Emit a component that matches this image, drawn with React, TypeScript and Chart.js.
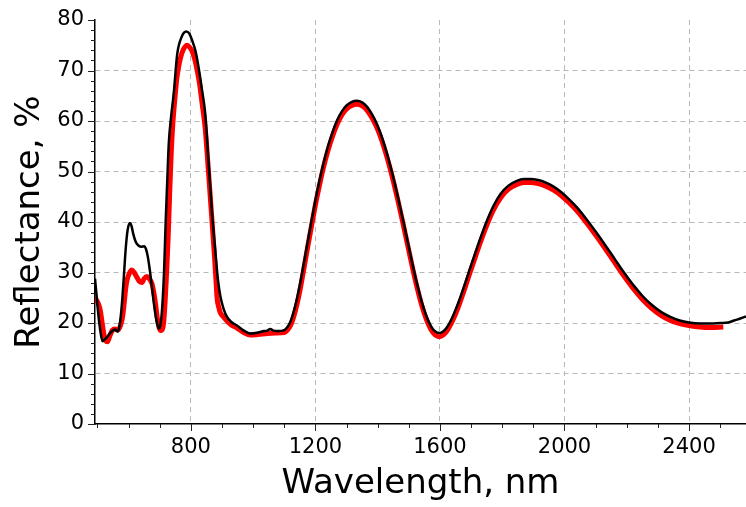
import React, { useEffect, useRef } from "react";
import { Chart, registerables } from "chart.js";

Chart.register(...registerables);

// Black (model) curve: wavelength (nm) and reflectance (%)
const blackNm = [
  492, 497, 503, 509, 516, 524, 532, 540, 548, 556, 565, 570, 575, 580, 585, 591, 597, 604, 609, 615,
  622, 630, 640, 650, 656, 662, 668, 675, 682, 690, 697, 702, 708, 714, 719, 724, 729, 736, 745, 756,
  770, 785, 795, 805, 815, 825, 836, 846, 857, 868, 879, 887, 895, 905, 916, 930, 948, 970, 991, 1015,
  1035, 1045, 1055, 1065, 1080, 1100, 1110, 1120, 1130, 1141, 1152, 1163, 1175, 1188, 1200, 1212, 1225, 1240, 1255, 1270,
  1285, 1300, 1317, 1333, 1350, 1366, 1382, 1398, 1414, 1430, 1447, 1464, 1481, 1497, 1512, 1527, 1542, 1557, 1571, 1585,
  1599, 1610, 1622, 1635, 1650, 1665, 1680, 1695, 1712, 1730, 1750, 1772, 1795, 1820, 1845, 1870, 1890, 1915, 1940, 1965,
  1990, 2015, 2040, 2070, 2100, 2130, 2160, 2190, 2220, 2250, 2280, 2310, 2340, 2370, 2400, 2435, 2470, 2500, 2526, 2545,
  2565, 2583,
];
const blackR = [
  28.8, 25.5, 21.5, 18.5, 16.4, 16.8, 17.3, 18.0, 18.4, 18.7, 18.3, 19.2, 21.5, 25, 29.5, 35, 38.5, 39.8, 39.3, 37.6,
  36.2, 35.4, 35.1, 35.2, 34.6, 33, 30.5, 27, 23.5, 20.3, 18.9, 19.6, 23.2, 30.5, 40, 48, 55.6, 60.6, 65.5, 73.2,
  76.6, 77.7, 77.3, 75.8, 73.8, 70.5, 66, 61.5, 51.6, 41.7, 33.8, 28.5, 25.2, 22.8, 21.2, 20.2, 19.5, 18.5, 17.9, 18.1,
  18.4, 18.5, 18.8, 18.5, 18.4, 18.6, 19.2, 20.3, 22.2, 24.9, 28.2, 31.9, 36.0, 40.4, 44.3, 47.9, 51.4, 54.9, 57.8, 60.2,
  61.9, 63.1, 63.8, 64.0, 63.7, 62.8, 61.3, 59.3, 56.7, 53.5, 49.6, 45.2, 40.5, 35.9, 31.6, 27.6, 24.1, 21.3, 19.4, 18.3,
  18.0, 18.3, 19.1, 20.5, 22.6, 25.0, 27.7, 30.5, 33.6, 36.8, 40.1, 43.2, 45.6, 47.2, 48.1, 48.5, 48.5, 48.3, 47.8, 47.0,
  45.9, 44.5, 42.9, 40.6, 38.1, 35.5, 32.8, 30.1, 27.6, 25.4, 23.6, 22.2, 21.2, 20.5, 20.1, 19.9, 19.9, 20.0, 20.1, 20.5,
  20.9, 21.3,
];

// Red (measured) curve
const redNm = [
  492, 497, 503, 509, 515, 520, 526, 532, 540, 548, 556, 565, 574, 580, 585, 590, 595, 602, 610, 618,
  627, 635, 643, 650, 659, 667, 675, 681, 686, 692, 697, 703, 708, 712, 717, 722, 727, 732, 737, 742,
  748, 755, 762, 772, 788, 796, 804, 812, 820, 828, 836, 846, 857, 868, 876, 882, 884, 890, 895, 905,
  916, 930, 948, 970, 991, 1015, 1045, 1070, 1100, 1110, 1120, 1130, 1141, 1152, 1163, 1175, 1188, 1200, 1212, 1225,
  1240, 1255, 1270, 1285, 1300, 1317, 1333, 1350, 1366, 1382, 1398, 1414, 1430, 1447, 1464, 1481, 1497, 1512, 1527, 1542,
  1557, 1571, 1585, 1599, 1610, 1622, 1635, 1650, 1665, 1680, 1695, 1712, 1730, 1750, 1772, 1795, 1820, 1845, 1870, 1890,
  1915, 1940, 1965, 1990, 2015, 2040, 2070, 2100, 2130, 2160, 2190, 2220, 2250, 2280, 2310, 2340, 2370, 2400, 2435, 2470,
  2510,
];
const redR = [
  25, 24.5, 23.8, 22.5, 20, 18, 16.5, 16.3, 17.5, 18.6, 18.8, 18.6, 19.5, 21, 23.5, 26.5, 28.5, 29.8, 30.5, 30,
  29, 28.2, 28, 28.8, 29.2, 28.7, 27.8, 26, 24, 21, 19.3, 18.5, 18.7, 19.8, 24, 30, 37, 46, 54, 59.5,
  64, 68.5, 71.2, 73.6, 75.0, 74.6, 73.8, 72.3, 70.1, 67.3, 63.5, 58.5, 49.5, 40, 33, 27, 25, 23, 22, 21.2,
  20.4, 19.6, 19, 18.1, 17.6, 17.7, 17.9, 18, 18.1, 18.6, 19.5, 21.2, 23.8, 27.0, 30.8, 35.0, 39.4, 43.4, 47.0, 50.6,
  54.1, 57.0, 59.4, 61.2, 62.4, 63.1, 63.3, 63.0, 62.1, 60.6, 58.6, 56.0, 52.8, 48.9, 44.5, 39.8, 35.2, 30.9, 26.9, 23.4,
  20.6, 18.7, 17.6, 17.3, 17.6, 18.4, 19.8, 21.8, 24.2, 26.9, 29.7, 32.8, 36.0, 39.3, 42.4, 44.8, 46.5, 47.4, 47.8, 47.8,
  47.6, 47.1, 46.3, 45.2, 43.8, 42.2, 39.9, 37.4, 34.8, 32.1, 29.4, 26.9, 24.7, 22.9, 21.5, 20.5, 19.9, 19.5, 19.2, 19.1,
  19.2,
];

// Axis ticks
const xTicks = [500, 600, 700, 800, 900, 1000, 1100, 1200, 1300, 1400, 1500, 1600, 1700, 1800, 1900, 2000, 2100, 2200, 2300, 2400, 2500];
const xMajor = [800, 1200, 1600, 2000, 2400];
const yTicks = [0, 2, 4, 6, 8, 10, 12, 14, 16, 18, 20, 22, 24, 26, 28, 30, 32, 34, 36, 38, 40, 42, 44, 46, 48, 50, 52, 54, 56, 58, 60, 62, 64, 66, 68, 70, 72, 74, 76, 78, 80];
const yMajor = [0, 10, 20, 30, 40, 50, 60, 70, 80];

const X_MIN = 492;
const X_MAX = 2583;
const Y_MIN = 0;
const Y_MAX = 80;

const FONT = "'DejaVu Sans', sans-serif";

const tickMarks = {
  id: "tickMarks",
  afterDraw(chart: any) {
    const ctx = chart.ctx;
    const xs = chart.scales.x;
    const ys = chart.scales.y;
    const area = chart.chartArea;
    ctx.save();
    ctx.strokeStyle = "#222";
    ctx.lineWidth = 1;
    xs.ticks.forEach((t: any) => {
      const px = Math.round(xs.getPixelForValue(t.value)) + 0.5;
      const len = xMajor.includes(t.value) ? 7 : 4;
      ctx.beginPath();
      ctx.moveTo(px, area.bottom);
      ctx.lineTo(px, area.bottom + len);
      ctx.stroke();
    });
    ys.ticks.forEach((t: any) => {
      const py = Math.round(ys.getPixelForValue(t.value)) + 0.5;
      const len = yMajor.includes(t.value) ? 7 : 4;
      ctx.beginPath();
      ctx.moveTo(area.left, py);
      ctx.lineTo(area.left - len, py);
      ctx.stroke();
    });
    ctx.restore();
  },
};

export default function App() {
  const ref = useRef<HTMLCanvasElement | null>(null);

  useEffect(() => {
    if (!ref.current) return;
    const black = blackNm.map((x, i) => ({ x, y: blackR[i] }));
    const red = redNm.map((x, i) => ({ x, y: redR[i] }));
    const chart = new Chart(ref.current, {
      type: "line",
      data: {
        datasets: [
          {
            label: "Calculated",
            data: black,
            borderColor: "#000000",
            borderWidth: 2.5,
            pointRadius: 0,
            cubicInterpolationMode: "monotone",
            fill: false,
          },
          {
            label: "Measured",
            data: red,
            borderColor: "#ff0000",
            borderWidth: 5,
            pointRadius: 0,
            cubicInterpolationMode: "monotone",
            fill: false,
          },
        ],
      },
      options: {
        animation: false,
        responsive: false,
        devicePixelRatio: 1,
        layout: { padding: { left: 0, right: 0, top: 20, bottom: 0 } },
        plugins: {
          legend: { display: false },
          tooltip: { enabled: false },
        },
        scales: {
          x: {
            type: "linear",
            min: X_MIN,
            max: X_MAX,
            afterBuildTicks: (scale: any) => {
              scale.ticks = xTicks.map((v) => ({ value: v }));
            },
            afterFit: (scale: any) => {
              scale.height = 83;
            },
            ticks: {
              autoSkip: false,
              maxRotation: 0,
              padding: 4,
              color: "#000",
              font: { family: FONT, size: 21 },
              callback: (v: any) => (xMajor.includes(Number(v)) ? String(v) : ""),
            },
            grid: {
              color: (c: any) => (c.tick && xMajor.includes(c.tick.value) ? "#b8b8b8" : "rgba(0,0,0,0)"),
              lineWidth: 1,
              tickLength: 7,
              tickColor: "rgba(0,0,0,0)",
            },
            border: { display: true, color: "#000", width: 1.5, dash: [5, 4] },
            title: {
              display: true,
              text: "Wavelength, nm",
              color: "#000",
              font: { family: FONT, size: 34 },
              padding: { top: 0, bottom: 2 },
            },
          },
          y: {
            type: "linear",
            min: Y_MIN,
            max: Y_MAX,
            afterBuildTicks: (scale: any) => {
              scale.ticks = yTicks.map((v) => ({ value: v }));
            },
            afterFit: (scale: any) => {
              scale.width = 95;
            },
            ticks: {
              autoSkip: false,
              padding: 4,
              color: "#000",
              font: { family: FONT, size: 21 },
              callback: (v: any) => (yMajor.includes(Number(v)) ? String(v) : ""),
            },
            grid: {
              color: (c: any) =>
                c.tick && yMajor.includes(c.tick.value) && c.tick.value !== 0 && c.tick.value !== 80
                  ? "#b8b8b8"
                  : "rgba(0,0,0,0)",
              lineWidth: 1,
              tickLength: 7,
              tickColor: "rgba(0,0,0,0)",
            },
            border: { display: true, color: "#000", width: 1.5, dash: [5, 4] },
            title: {
              display: true,
              text: "Reflectance, %",
              color: "#000",
              font: { family: FONT, size: 34 },
              padding: { top: 10, bottom: 0 },
            },
          },
        },
      } as any,
      plugins: [tickMarks],
    });
    return () => chart.destroy();
  }, []);

  return (
    <div style={{ position: "fixed", left: 0, top: 0, width: 746, height: 507, background: "#fff" }}>
      <canvas ref={ref} width={746} height={507} />
    </div>
  );
}
